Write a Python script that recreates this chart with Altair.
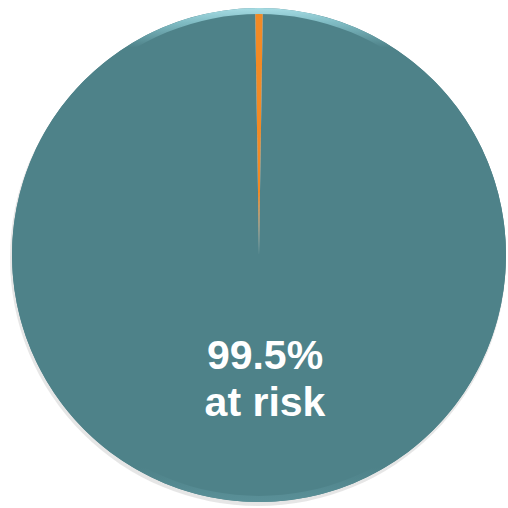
import math
import altair as alt
import pandas as pd

# Share of the total in each group (percent)
groups = ["Not at risk", "At risk"]
shares = [0.5, 99.5]
slice_colors = ["#F28A25", "#4E8289"]
label_lines = [f"{shares[1]}%", "at risk"]

pie_df = pd.DataFrame({"group": groups, "share": shares, "order": [0, 1]})
label_df = pd.DataFrame({"line": label_lines, "row": [0, 1]})

cx, cy, r = 259, 255, 247
half = math.pi * shares[0] / 100.0  # centre the small slice on 12 o'clock

base = alt.Chart(pie_df)

# soft drop shadow behind the disc
shadow = alt.Chart(pd.DataFrame({"v": [1]})).mark_arc(
    outerRadius=r + 1, color="#d2d2d2", opacity=0.55
).encode(theta=alt.value(2 * math.pi), x=alt.value(cx - 1), y=alt.value(cy + 3))

pie = base.mark_arc(outerRadius=r).encode(
    theta=alt.Theta("share:Q", stack=True,
                    scale=alt.Scale(range=[-half, 2 * math.pi - half])),
    order=alt.Order("order:Q"),
    color=alt.Color("group:N", scale=alt.Scale(domain=groups, range=slice_colors),
                    legend=None),
    x=alt.value(cx),
    y=alt.value(cy),
)

# bevelled rim, lit from above
rim = alt.Chart(pd.DataFrame({"v": [1]})).mark_arc(
    innerRadius=r - 6,
    outerRadius=r,
    fill=alt.Gradient(
        gradient="linear", x1=0, y1=0, x2=0, y2=1,
        stops=[
            alt.GradientStop(offset=0.0, color="#A6DCE4"),
            alt.GradientStop(offset=0.03, color="#7FBBC3"),
            alt.GradientStop(offset=0.08, color="#4E8289"),
            alt.GradientStop(offset=0.93, color="#4E8289"),
            alt.GradientStop(offset=1.0, color="#5A9098"),
        ],
    ),
).encode(theta=alt.value(2 * math.pi), x=alt.value(cx), y=alt.value(cy))

labels = alt.Chart(label_df).mark_text(
    font="Liberation Sans", fontWeight="bold", fontSize=41, color="white",
    align="center", baseline="alphabetic",
).encode(
    text="line:N",
    x=alt.value(265),
    y=alt.Y("row:Q", scale=alt.Scale(domain=[0, 1], range=[369, 416]), axis=None),
)

chart = (
    alt.layer(shadow, pie, rim, labels)
    .properties(width=508, height=508, padding=0, autosize="none")
    .configure_view(stroke=None)
)

chart.save("out.html", embed_options={"renderer": "svg", "actions": False})
